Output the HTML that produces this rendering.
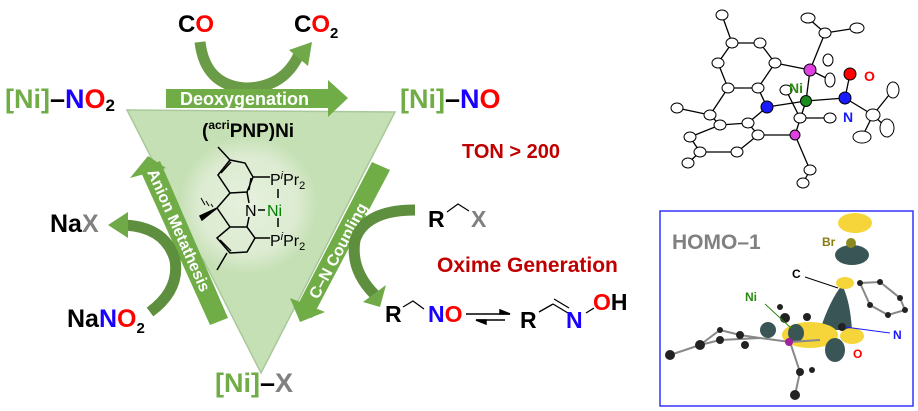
<!DOCTYPE html>
<html><head><meta charset="utf-8"><style>
body{margin:0;background:#fff;width:918px;height:411px;overflow:hidden}
svg{display:block}
text{font-family:"Liberation Sans",Arial,sans-serif;font-weight:bold}
text.n{font-weight:normal}
</style></head><body>
<svg width="918" height="411" viewBox="0 0 918 411">
<defs>
<radialGradient id="glow" cx="50%" cy="50%" r="50%"><stop offset="0" stop-color="#e6f1de"/><stop offset="0.7" stop-color="#dcebd1"/><stop offset="1" stop-color="#c5e0b4"/></radialGradient>
</defs>
<polygon points="127,110 395,112 261,373" fill="#c5e0b4" stroke="#a9c89b" stroke-width="1.5"/>
<ellipse cx="248" cy="205" rx="70" ry="70" fill="url(#glow)"/>
<path d="M200,42 Q205,85 245,88 Q285,88 300,52" fill="none" stroke="#6a9b46" stroke-width="11"/>
<polygon points="289,50 312,42 308,66" fill="#6fa948"/>
<text x="178" y="32" font-size="24" fill="#000">C<tspan fill="#f00">O</tspan></text>
<text x="294" y="32" font-size="24" fill="#000">C<tspan fill="#f00">O</tspan><tspan font-size="15" dy="6">2</tspan></text>
<polygon points="166,89 328,89 328,80 348,98 328,117 328,108 166,108" fill="#70ad47"/>
<text x="180" y="105" font-size="18" fill="#fff">Deoxygenation</text>
<text x="5" y="108" font-size="27" fill="#70ad47">[Ni]<tspan fill="#000">–</tspan><tspan fill="#1a00ff">N</tspan><tspan fill="#f00">O</tspan><tspan fill="#000" font-size="17" dy="3">2</tspan></text>
<text x="400" y="108" font-size="27" fill="#70ad47">[Ni]<tspan fill="#000">–</tspan><tspan fill="#1a00ff">N</tspan><tspan fill="#f00">O</tspan></text>
<text x="202" y="137" font-size="19" fill="#000">(<tspan font-size="12" dy="-8">acri</tspan><tspan dy="8">PNP)Ni</tspan></text>
<text x="462" y="158" font-size="20" fill="#c00000">TON &gt; 200</text>
<g stroke="#000" stroke-width="1.5" fill="none">
<polygon points="218,175 230,160 245,163 253,177 247,192 230,193"/>
<polygon points="217,238 230,227 247,227 255,238 247,252 230,253"/>
<line x1="221" y1="173" x2="231" y2="162"/>
<line x1="220" y1="240" x2="231" y2="251"/>
<line x1="249" y1="190" x2="251" y2="178"/>
<line x1="230" y1="160" x2="218" y2="147"/>
<line x1="227" y1="253" x2="217" y2="270"/>
<line x1="230" y1="193" x2="217" y2="208"/>
<line x1="217" y1="208" x2="230" y2="227"/>
<line x1="247" y1="192" x2="249" y2="203"/>
<line x1="247" y1="227" x2="249" y2="217"/>
<line x1="253" y1="177" x2="270" y2="177"/>
<line x1="255" y1="238" x2="270" y2="238"/>
<line x1="278" y1="189" x2="278" y2="198"/>
<line x1="278" y1="218" x2="278" y2="227"/>
<line x1="258" y1="210" x2="265" y2="210"/>
<polygon points="217,208 200,216 202,220" fill="#000"/>
<g stroke-width="1"><line x1="213" y1="207" x2="211" y2="204"/><line x1="209" y1="206" x2="206" y2="201"/><line x1="205" y1="205" x2="201" y2="198"/></g>
</g>
<text class="n" x="270" y="185" font-size="16" fill="#000">P<tspan font-style="italic" font-size="11" dy="-6">i</tspan><tspan dy="6">Pr</tspan><tspan font-size="11" dy="4">2</tspan></text>
<text class="n" x="270" y="246" font-size="16" fill="#000">P<tspan font-style="italic" font-size="11" dy="-6">i</tspan><tspan dy="6">Pr</tspan><tspan font-size="11" dy="4">2</tspan></text>
<text class="n" x="245" y="216" font-size="16" fill="#000">N</text>
<text class="n" x="267" y="216" font-size="16" fill="#008000">Ni</text>
<polygon points="140,170 160,161 228,318 210,325" fill="#70ad47"/>
<polygon points="130,178 148,156 166,168" fill="#70ad47"/>
<text transform="translate(147,172) rotate(66)" font-size="16" fill="#fff">Anion Metathesis</text>
<path d="M150,312 Q180,290 175,260 Q165,225 120,225" fill="none" stroke="#5e8f3e" stroke-width="11"/>
<polygon points="108,225 128,212 128,238" fill="#6fa948"/>
<text x="50" y="232" font-size="25" fill="#000">Na<tspan fill="#808080">X</tspan></text>
<text x="67" y="327" font-size="25" fill="#000">Na<tspan fill="#1a00ff">N</tspan><tspan fill="#f00">O</tspan><tspan font-size="15" dy="6">2</tspan></text>
<polygon points="372,162 390,170 312,318 295,310" fill="#70ad47"/>
<polygon points="290,298 325,312 300,322" fill="#70ad47"/>
<text transform="translate(318,300) rotate(-62)" font-size="16" fill="#fff">C–N Coupling</text>
<path d="M415,210 Q365,210 355,240 Q350,270 375,295" fill="none" stroke="#5e8f3e" stroke-width="11"/>
<polygon points="363,302 386,285 380,307" fill="#6fa948"/>
<text x="215" y="392" font-size="27" fill="#70ad47">[Ni]<tspan fill="#000">–</tspan><tspan fill="#808080">X</tspan></text>
<text x="428" y="227" font-size="23" fill="#000">R</text>
<polyline points="447,212 458,204 469,211" fill="none" stroke="#000" stroke-width="1.2"/>
<text x="471" y="227" font-size="23" fill="#808080">X</text>
<text x="437" y="272" font-size="21" fill="#c00000">Oxime Generation</text>
<text x="385" y="322" font-size="23" fill="#000">R</text>
<polyline points="403,307 413,301 424,309" fill="none" stroke="#000" stroke-width="1.2"/>
<text x="428" y="322" font-size="23" fill="#1a00ff">N<tspan fill="#f00">O</tspan></text>
<g stroke="#000" stroke-width="1.5" fill="#000">
<line x1="466" y1="314" x2="510" y2="314"/><polygon points="500,310 510,314 500,314"/>
<line x1="476" y1="320" x2="505" y2="320"/><polygon points="476,320 486,320 486,324"/>
</g>
<text x="520" y="328" font-size="23" fill="#000">R</text>
<g stroke="#000" stroke-width="1.3"><line x1="539" y1="312" x2="553" y2="304"/><line x1="553" y1="304" x2="568" y2="313"/><line x1="554" y1="299" x2="569" y2="308"/><line x1="586" y1="313" x2="594" y2="308"/></g>
<text x="566" y="328" font-size="23" fill="#1a00ff">N</text>
<text x="593" y="310" font-size="23" fill="#f00">O<tspan fill="#000">H</tspan></text>
<g stroke="#000" stroke-width="1.3" fill="none">
<polyline points="722,15 732,43 760,43 775,63 758,88 728,88 718,63 732,43"/>
<line x1="775" y1="63" x2="810" y2="70"/>
<line x1="758" y1="88" x2="767" y2="107"/><line x1="728" y1="88" x2="710" y2="115"/>
<line x1="710" y1="115" x2="677" y2="108"/><line x1="710" y1="115" x2="720" y2="125"/>
<line x1="767" y1="107" x2="748" y2="123"/><line x1="720" y1="125" x2="748" y2="123"/>
<line x1="748" y1="123" x2="758" y2="135"/><line x1="758" y1="135" x2="795" y2="135"/>
<line x1="758" y1="135" x2="737" y2="152"/><line x1="737" y1="152" x2="700" y2="152"/>
<line x1="700" y1="152" x2="690" y2="137"/><line x1="690" y1="137" x2="720" y2="125"/>
<line x1="700" y1="152" x2="688" y2="163"/>
<line x1="767" y1="107" x2="806" y2="101"/><line x1="806" y1="101" x2="845" y2="98"/>
<line x1="810" y1="70" x2="806" y2="101"/><line x1="810" y1="70" x2="825" y2="33"/>
<line x1="825" y1="33" x2="808" y2="18"/><line x1="825" y1="33" x2="857" y2="28"/>
<line x1="810" y1="70" x2="830" y2="80"/><line x1="795" y1="135" x2="806" y2="101"/>
<line x1="795" y1="135" x2="810" y2="170"/><line x1="810" y1="170" x2="803" y2="183"/>
<line x1="845" y1="98" x2="873" y2="115"/><line x1="873" y1="115" x2="893" y2="90"/><line x1="873" y1="115" x2="862" y2="137"/><line x1="873" y1="115" x2="887" y2="128"/>
<line x1="845" y1="98" x2="850" y2="74"/>
<line x1="786" y1="90" x2="800" y2="118"/><line x1="800" y1="118" x2="830" y2="118"/>
</g>
<g stroke="#000" stroke-width="1" fill="#fff">
<ellipse cx="722" cy="15" rx="6" ry="5"/><ellipse cx="732" cy="43" rx="6" ry="5"/><ellipse cx="760" cy="43" rx="6" ry="5"/>
<ellipse cx="775" cy="63" rx="6" ry="5"/><ellipse cx="718" cy="63" rx="6" ry="5"/><ellipse cx="728" cy="88" rx="6" ry="5"/><ellipse cx="758" cy="88" rx="6" ry="5"/>
<ellipse cx="677" cy="108" rx="6" ry="5"/><ellipse cx="710" cy="115" rx="6" ry="5"/><ellipse cx="720" cy="125" rx="6" ry="5"/>
<ellipse cx="748" cy="123" rx="6" ry="5"/><ellipse cx="758" cy="135" rx="6" ry="5"/><ellipse cx="700" cy="152" rx="6" ry="5"/>
<ellipse cx="737" cy="152" rx="6" ry="5"/><ellipse cx="688" cy="163" rx="6" ry="5"/><ellipse cx="690" cy="137" rx="6" ry="5"/>
<ellipse cx="825" cy="33" rx="6" ry="5"/><ellipse cx="808" cy="18" rx="7" ry="5"/><ellipse cx="857" cy="28" rx="7" ry="5"/>
<ellipse cx="830" cy="80" rx="5" ry="7"/><ellipse cx="828" cy="60" rx="5" ry="6"/><ellipse cx="810" cy="170" rx="6" ry="5"/><ellipse cx="803" cy="183" rx="6" ry="5"/>
<ellipse cx="873" cy="115" rx="7" ry="6"/><ellipse cx="893" cy="90" rx="6" ry="8"/><ellipse cx="862" cy="137" rx="9" ry="6"/><ellipse cx="887" cy="128" rx="7" ry="9"/>
<ellipse cx="800" cy="118" rx="6" ry="5"/><ellipse cx="830" cy="118" rx="6" ry="5"/><ellipse cx="786" cy="90" rx="6" ry="5"/>
</g>
<circle cx="767" cy="107" r="6" fill="#1a1aff" stroke="#000"/>
<circle cx="810" cy="70" r="6" fill="#e040e0" stroke="#000"/>
<circle cx="795" cy="135" r="5" fill="#e040e0" stroke="#000"/>
<circle cx="806" cy="101" r="5.5" fill="#1c8a1c" stroke="#000"/>
<circle cx="845" cy="98" r="6" fill="#1a1aff" stroke="#000"/>
<circle cx="850" cy="74" r="6" fill="#f00" stroke="#000"/>
<text x="789" y="93" font-size="14" fill="#2a8a10">Ni</text>
<text x="864" y="81" font-size="14" fill="#f00">O</text>
<text x="843" y="122" font-size="14" fill="#1a1aff">N</text>
<rect x="660" y="211" width="253" height="195" fill="#fff" stroke="#3333ff" stroke-width="1.5"/>
<text x="672" y="249" font-size="21" fill="#808080">HOMO–1</text>
<ellipse cx="855" cy="223" rx="17" ry="10" fill="#f5d53a"/>
<ellipse cx="852" cy="255" rx="17" ry="10" fill="#3a5555"/>
<circle cx="851" cy="243" r="5" fill="#8a8a20"/>
<text x="822" y="246" font-size="12" fill="#8a7a10">Br</text>
<text x="792" y="278" font-size="12" fill="#000">C</text>
<line x1="805" y1="277" x2="838" y2="288" stroke="#000"/>
<path d="M820,330 Q830,300 842,285 Q850,300 852,330 Z" fill="#3a5555"/>
<ellipse cx="845" cy="283" rx="9" ry="6" fill="#f5d53a"/>
<ellipse cx="810" cy="335" rx="28" ry="13" fill="#f5d53a"/>
<ellipse cx="852" cy="336" rx="12" ry="8" fill="#f5d53a"/>
<ellipse cx="835" cy="350" rx="10" ry="12" fill="#3a5555"/>
<ellipse cx="796" cy="333" rx="8" ry="9" fill="#3a5555"/>
<ellipse cx="768" cy="330" rx="8" ry="8" fill="#3a5555"/>
<g stroke="#888" stroke-width="2" fill="none">
<polyline points="670,355 700,345 720,340 760,338 790,342 820,340"/>
<polyline points="700,345 720,330 740,335 760,338"/>
<polyline points="790,342 800,372 795,395"/>
<polyline points="860,283 880,282 900,298 905,310 888,315 870,305 860,283"/>
</g>
<g fill="#222">
<circle cx="670" cy="355" r="5"/><circle cx="700" cy="345" r="5"/><circle cx="720" cy="330" r="3"/><circle cx="740" cy="335" r="4"/>
<circle cx="745" cy="345" r="4"/><circle cx="720" cy="340" r="4"/><circle cx="780" cy="307" r="3"/><circle cx="785" cy="318" r="5"/>
<circle cx="807" cy="317" r="4"/><circle cx="800" cy="372" r="4"/><circle cx="795" cy="395" r="5"/><circle cx="812" cy="370" r="3"/>
<circle cx="860" cy="283" r="3"/><circle cx="880" cy="282" r="3"/><circle cx="900" cy="298" r="3"/><circle cx="905" cy="310" r="3"/><circle cx="888" cy="315" r="3"/><circle cx="870" cy="305" r="3"/>
<circle cx="842" cy="327" r="4"/>
</g>
<circle cx="789" cy="342" r="4" fill="#a020a0"/>
<text x="745" y="301" font-size="12" fill="#2a8a10">Ni</text>
<line x1="765" y1="304" x2="791" y2="328" stroke="#2a8a10"/>
<text x="893" y="339" font-size="12" fill="#1a1aff">N</text>
<line x1="845" y1="327" x2="890" y2="333" stroke="#1a1aff"/>
<text x="853" y="358" font-size="12" fill="#f00">O</text>
</svg>
</body></html>
